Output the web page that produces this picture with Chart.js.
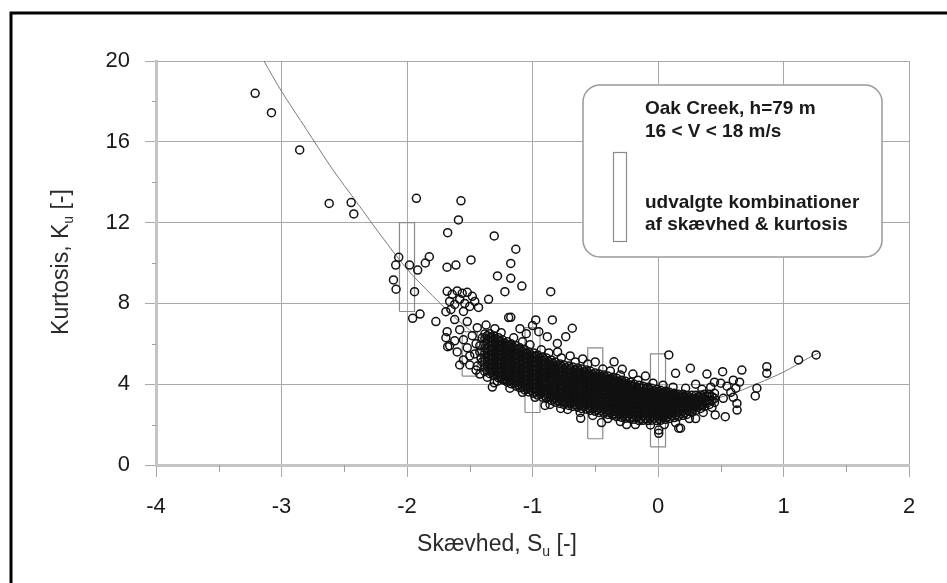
<!DOCTYPE html>
<html lang="da">
<head>
<meta charset="UTF-8">
<title>Kurtosis mod skævhed - Oak Creek</title>
<script src="https://cdn.jsdelivr.net/npm/chart.js"></script>
<style>
  body { margin: 0; background: #fff; }
  #wrap { width: 947px; height: 583px; }
</style>
</head>
<body>
<div id="wrap"><canvas id="chart" width="947" height="583"></canvas></div>
<script>
// fitted curve K(S)
const fitS = [-3.14, -3.0, -2.8, -2.6, -2.4, -2.2, -2.0, -1.8, -1.6, -1.4, -1.2, -1.0, -0.8, -0.6, -0.4, -0.2, 0, 0.2, 0.4, 0.6, 0.8, 1.0, 1.2, 1.28];
const fitK = [20.0, 18.5, 16.6, 14.7, 13.0, 11.3, 9.7, 8.4, 7.2, 6.2, 5.3, 4.6, 4.0, 3.5, 3.2, 2.95, 2.85, 2.95, 3.2, 3.55, 4.05, 4.6, 5.3, 5.55];

// selected skewness/kurtosis combinations (boxes)
const boxS = [-2.0, -1.5, -1.0, -0.5, 0.0];
const boxLow = [7.6, 4.4, 2.6, 1.3, 0.9];
const boxHigh = [12.0, 6.6, 6.8, 5.8, 5.5];

// dense band of measurements: one skewness column with its kurtosis values
const bandS = [-1.38, -1.34, -1.31, -1.27, -1.24, -1.2, -1.17, -1.13, -1.1, -1.06, -1.03, -0.99, -0.96, -0.92, -0.89, -0.85, -0.82, -0.78, -0.75, -0.71, -0.68, -0.64, -0.61, -0.57, -0.54, -0.5, -0.47, -0.43, -0.4, -0.36, -0.33, -0.29, -0.26, -0.22, -0.19, -0.15, -0.12, -0.08, -0.05, -0.01, 0.02, 0.06, 0.09, 0.13, 0.16, 0.2, 0.23, 0.27, 0.3, 0.34, 0.37, 0.41, 0.45];
const bandK = [
  [4.62, 4.85, 5.1, 5.3, 5.55, 5.78, 6.0, 6.25, 6.48],
  [4.52, 4.74, 4.98, 5.2, 5.41, 5.66, 5.88, 6.1, 6.31, 6.5],
  [4.43, 4.66, 4.9, 5.12, 5.33, 5.57, 5.8, 6.02, 6.22, 6.4],
  [4.31, 4.55, 4.77, 4.99, 5.22, 5.45, 5.66, 5.9, 6.1, 6.3],
  [4.22, 4.44, 4.68, 4.9, 5.13, 5.35, 5.56, 5.8, 6.0, 6.2],
  [4.1, 4.33, 4.57, 4.79, 5.0, 5.24, 5.46, 5.69, 5.9, 6.1],
  [4.02, 4.25, 4.47, 4.7, 4.93, 5.15, 5.37, 5.6, 5.82, 6.0],
  [3.9, 4.13, 4.36, 4.58, 4.8, 5.03, 5.25, 5.47, 5.7, 5.9],
  [3.82, 4.04, 4.27, 4.5, 4.72, 4.95, 5.17, 5.38, 5.6, 5.8],
  [3.71, 3.94, 4.16, 4.39, 4.61, 4.83, 5.06, 5.28, 5.5, 5.7],
  [3.62, 3.85, 4.07, 4.3, 4.52, 4.74, 4.97, 5.19, 5.4, 5.6],
  [3.55, 3.77, 4.0, 4.22, 4.44, 4.66, 4.88, 5.1, 5.33, 5.55],
  [3.46, 3.68, 3.9, 4.13, 4.35, 4.57, 4.8, 5.02, 5.24, 5.45],
  [3.36, 3.58, 3.8, 4.03, 4.25, 4.47, 4.7, 4.92, 5.14, 5.35],
  [3.3, 3.52, 3.74, 3.96, 4.18, 4.4, 4.62, 4.85, 5.07, 5.3],
  [3.2, 3.42, 3.64, 3.87, 4.09, 4.31, 4.53, 4.76, 4.98, 5.2],
  [3.11, 3.33, 3.56, 3.78, 4.0, 4.22, 4.44, 4.66, 4.88, 5.1],
  [3.05, 3.27, 3.5, 3.72, 3.94, 4.16, 4.38, 4.6, 4.8, 5.0],
  [3.0, 3.22, 3.44, 3.66, 3.88, 4.1, 4.32, 4.54, 4.75, 4.95],
  [2.95, 3.17, 3.39, 3.61, 3.83, 4.05, 4.27, 4.49, 4.7, 4.9],
  [2.9, 3.12, 3.34, 3.56, 3.78, 4.0, 4.22, 4.43, 4.64, 4.85],
  [2.86, 3.08, 3.3, 3.52, 3.74, 3.96, 4.17, 4.38, 4.6, 4.8],
  [2.8, 3.02, 3.24, 3.46, 3.68, 3.9, 4.12, 4.33, 4.55, 4.75],
  [2.76, 2.98, 3.2, 3.42, 3.64, 3.85, 4.06, 4.28, 4.5, 4.7],
  [2.7, 2.92, 3.14, 3.36, 3.58, 3.8, 4.01, 4.22, 4.44, 4.65],
  [2.66, 2.88, 3.1, 3.32, 3.53, 3.75, 3.96, 4.17, 4.37, 4.55],
  [2.6, 2.82, 3.04, 3.26, 3.48, 3.7, 3.91, 4.12, 4.32, 4.5],
  [2.56, 2.78, 3.0, 3.22, 3.44, 3.65, 3.86, 4.06, 4.26, 4.45],
  [2.5, 2.72, 2.94, 3.16, 3.38, 3.6, 3.81, 4.01, 4.21, 4.4],
  [2.46, 2.68, 2.9, 3.12, 3.34, 3.55, 3.76, 3.96, 4.16, 4.35],
  [2.4, 2.62, 2.84, 3.06, 3.28, 3.5, 3.71, 3.91, 4.11, 4.3],
  [2.36, 2.58, 2.8, 3.02, 3.23, 3.44, 3.65, 3.85, 4.04, 4.2],
  [2.31, 2.53, 2.75, 2.97, 3.18, 3.39, 3.6, 3.8, 3.98, 4.15],
  [2.3, 2.52, 2.74, 2.95, 3.16, 3.37, 3.57, 3.76, 3.94, 4.1],
  [2.26, 2.48, 2.7, 2.91, 3.12, 3.33, 3.53, 3.72, 3.88, 4.0],
  [2.2, 2.42, 2.64, 2.85, 3.06, 3.27, 3.47, 3.66, 3.82, 3.95],
  [2.21, 2.43, 2.65, 2.86, 3.07, 3.27, 3.46, 3.64, 3.8, 3.9],
  [2.2, 2.42, 2.63, 2.84, 3.05, 3.25, 3.44, 3.62, 3.78, 3.85],
  [2.22, 2.44, 2.65, 2.86, 3.06, 3.25, 3.43, 3.6, 3.8],
  [2.2, 2.41, 2.62, 2.83, 3.03, 3.22, 3.4, 3.58, 3.75],
  [2.21, 2.42, 2.63, 2.84, 3.04, 3.23, 3.41, 3.57, 3.7],
  [2.26, 2.47, 2.68, 2.88, 3.07, 3.25, 3.42, 3.56, 3.65],
  [2.3, 2.51, 2.72, 2.92, 3.11, 3.29, 3.45, 3.6],
  [2.35, 2.56, 2.77, 2.97, 3.15, 3.32, 3.46, 3.55],
  [2.4, 2.61, 2.82, 3.01, 3.19, 3.35, 3.5],
  [2.46, 2.67, 2.87, 3.06, 3.23, 3.38, 3.5],
  [2.5, 2.71, 2.91, 3.09, 3.26, 3.45],
  [2.6, 2.8, 2.99, 3.16, 3.31, 3.45],
  [2.7, 2.9, 3.08, 3.25, 3.45],
  [2.8, 3.0, 3.18, 3.35, 3.47],
  [2.9, 3.1, 3.28, 3.5],
  [3.0, 3.2, 3.38, 3.5],
  [3.1, 3.3, 3.55]
];

// more measurements in the core of the band, between the columns above
const coreS = [-1.36, -1.325, -1.29, -1.255, -1.22, -1.185, -1.15, -1.115, -1.08, -1.045, -1.01, -0.975, -0.94, -0.905, -0.87, -0.835, -0.8, -0.765, -0.73, -0.695, -0.66, -0.625, -0.59, -0.555, -0.52, -0.485, -0.45, -0.415, -0.38, -0.345, -0.31, -0.275, -0.24, -0.205, -0.17, -0.135, -0.1, -0.065, -0.03, 0.005, 0.04, 0.075, 0.11, 0.145, 0.18, 0.215, 0.25, 0.285, 0.32, 0.355, 0.39, 0.43];
const coreK = [
  [4.68, 4.9, 5.12, 5.34, 5.56, 5.78, 6.0, 6.22, 6.4],
  [4.58, 4.8, 5.02, 5.24, 5.46, 5.68, 5.9, 6.12, 6.34],
  [4.48, 4.7, 4.92, 5.14, 5.36, 5.58, 5.8, 6.02, 6.24],
  [4.37, 4.59, 4.81, 5.03, 5.25, 5.47, 5.69, 5.91, 6.13],
  [4.27, 4.49, 4.71, 4.93, 5.15, 5.37, 5.59, 5.81, 6.03],
  [4.17, 4.39, 4.61, 4.83, 5.05, 5.27, 5.49, 5.71, 5.93],
  [4.07, 4.29, 4.51, 4.73, 4.95, 5.17, 5.39, 5.61, 5.83],
  [3.97, 4.19, 4.41, 4.63, 4.85, 5.07, 5.29, 5.51, 5.73],
  [3.87, 4.09, 4.31, 4.53, 4.75, 4.97, 5.19, 5.41, 5.63],
  [3.77, 3.99, 4.21, 4.43, 4.65, 4.87, 5.09, 5.31, 5.53],
  [3.69, 3.91, 4.13, 4.35, 4.57, 4.79, 5.01, 5.23, 5.45],
  [3.61, 3.83, 4.05, 4.27, 4.49, 4.71, 4.93, 5.15, 5.37],
  [3.52, 3.74, 3.96, 4.18, 4.4, 4.62, 4.84, 5.06, 5.28],
  [3.44, 3.66, 3.88, 4.1, 4.32, 4.54, 4.76, 4.98, 5.2],
  [3.36, 3.58, 3.8, 4.02, 4.24, 4.46, 4.68, 4.9, 5.12],
  [3.26, 3.48, 3.7, 3.92, 4.14, 4.36, 4.58, 4.8, 5.02],
  [3.19, 3.41, 3.63, 3.85, 4.07, 4.29, 4.51, 4.73, 4.93],
  [3.13, 3.35, 3.57, 3.79, 4.01, 4.23, 4.45, 4.67, 4.86],
  [3.08, 3.3, 3.52, 3.74, 3.96, 4.18, 4.4, 4.62, 4.81],
  [3.03, 3.25, 3.47, 3.69, 3.91, 4.13, 4.35, 4.57, 4.76],
  [2.99, 3.21, 3.43, 3.65, 3.87, 4.09, 4.31, 4.53, 4.71],
  [2.94, 3.16, 3.38, 3.6, 3.82, 4.04, 4.26, 4.48, 4.66],
  [2.89, 3.11, 3.33, 3.55, 3.77, 3.99, 4.21, 4.43, 4.61],
  [2.84, 3.06, 3.28, 3.5, 3.72, 3.94, 4.16, 4.38, 4.56],
  [2.79, 3.01, 3.23, 3.45, 3.67, 3.89, 4.11, 4.33, 4.49],
  [2.74, 2.96, 3.18, 3.4, 3.62, 3.84, 4.06, 4.28, 4.41],
  [2.69, 2.91, 3.13, 3.35, 3.57, 3.79, 4.01, 4.23, 4.36],
  [2.64, 2.86, 3.08, 3.3, 3.52, 3.74, 3.96, 4.18, 4.31],
  [2.59, 2.81, 3.03, 3.25, 3.47, 3.69, 3.91, 4.13, 4.26],
  [2.54, 2.76, 2.98, 3.2, 3.42, 3.64, 3.86, 4.08, 4.21],
  [2.49, 2.71, 2.93, 3.15, 3.37, 3.59, 3.81, 4.03, 4.14],
  [2.44, 2.66, 2.88, 3.1, 3.32, 3.54, 3.76, 3.96, 4.06],
  [2.41, 2.63, 2.85, 3.07, 3.29, 3.51, 3.73, 3.92, 4.01],
  [2.39, 2.61, 2.83, 3.05, 3.27, 3.49, 3.71, 3.9],
  [2.34, 2.56, 2.78, 3.0, 3.22, 3.44, 3.64, 3.84],
  [2.31, 2.53, 2.75, 2.97, 3.19, 3.41, 3.6, 3.8],
  [2.31, 2.53, 2.75, 2.97, 3.19, 3.4, 3.58, 3.76],
  [2.32, 2.54, 2.76, 2.98, 3.2, 3.4, 3.56, 3.72],
  [2.32, 2.54, 2.76, 2.98, 3.18, 3.38, 3.54, 3.68],
  [2.31, 2.53, 2.75, 2.96, 3.16, 3.35, 3.52, 3.64],
  [2.34, 2.56, 2.78, 2.98, 3.17, 3.35, 3.5, 3.6],
  [2.39, 2.61, 2.82, 3.02, 3.2, 3.37, 3.52],
  [2.43, 2.65, 2.86, 3.05, 3.23, 3.4, 3.5],
  [2.48, 2.7, 2.9, 3.09, 3.26, 3.42],
  [2.54, 2.75, 2.95, 3.13, 3.3, 3.42],
  [2.59, 2.8, 2.99, 3.17, 3.34],
  [2.66, 2.86, 3.05, 3.22, 3.36],
  [2.76, 2.95, 3.13, 3.3],
  [2.86, 3.05, 3.22, 3.37],
  [2.96, 3.14, 3.32],
  [3.06, 3.24, 3.4],
  [3.18, 3.38]
];

// ragged rim of the band [S, K]
const rim = [
  [-1.3, 6.75], [-1.25, 6.55], [-1.15, 6.3], [-1.08, 6.1], [-1.02, 5.95], [-0.93, 5.7], [-0.87, 5.55],
  [-0.77, 5.3], [-0.66, 5.1], [-0.56, 5.0], [-0.44, 4.75], [-0.38, 4.65], [-0.3, 4.45], [-0.16, 4.2],
  [-0.04, 4.05], [0.04, 3.95], [0.12, 3.85], [0.22, 3.8], [0.35, 3.75], [0.42, 3.85],
  [-1.36, 4.35], [-1.28, 4.15], [-1.18, 3.8], [-1.08, 3.6], [-0.98, 3.35], [-0.86, 3.0], [-0.72, 2.75],
  [-0.62, 2.6], [-0.52, 2.45], [-0.4, 2.3], [-0.3, 2.15], [-0.18, 2.0], [-0.06, 1.98], [0.05, 2.0],
  [0.14, 2.1], [0.25, 2.3], [0.36, 2.6], [0.43, 2.85],
  [-1.42, 5.9], [-1.41, 5.3], [-1.44, 4.9], [-1.4, 6.3], [-1.46, 5.5]
];

// scattered measurements outside the dense band [S, K]
const sparse = [
  [-3.21, 18.4], [-3.08, 17.44], [-2.855, 15.6], [-2.62, 12.95], [-2.445, 12.99], [-2.424, 12.43],
  [-1.925, 13.2], [-1.57, 13.08], [-1.59, 12.13], [-1.676, 11.5], [-1.305, 11.34], [-1.133, 10.68],
  [-1.173, 9.98], [-1.279, 9.36], [-1.173, 9.24], [-1.085, 8.86], [-1.22, 8.58], [-0.855, 8.58],
  [-1.49, 10.15], [-1.61, 9.9], [-1.681, 9.79], [-1.822, 10.31], [-1.854, 10.0], [-1.915, 9.65],
  [-1.98, 9.9], [-2.066, 10.28], [-2.09, 9.9], [-2.108, 9.16], [-2.087, 8.7], [-1.94, 8.58],
  [-1.955, 7.26], [-1.896, 7.47], [-1.77, 7.1], [-1.69, 7.59],
  [-1.68, 8.6], [-1.64, 8.45], [-1.6, 8.62], [-1.56, 8.5], [-1.52, 8.55], [-1.48, 8.35],
  [-1.66, 8.1], [-1.62, 7.95], [-1.58, 8.2], [-1.54, 8.0], [-1.5, 7.85], [-1.46, 8.1],
  [-1.43, 7.8], [-1.65, 7.7], [-1.55, 7.6], [-1.35, 8.2],
  [-1.19, 7.3], [-1.37, 6.93], [-1.173, 7.31], [-0.974, 7.18], [-0.842, 7.18], [-0.683, 6.77],
  [-0.735, 6.35], [-0.802, 6.02], [-0.882, 6.35], [-1.0, 6.9], [-0.95, 6.6], [-1.05, 6.5], [-1.1, 6.75],
  [-1.69, 6.3], [-1.66, 5.9], [-1.62, 6.15], [-1.58, 6.7], [-1.55, 6.2], [-1.52, 5.8], [-1.48, 6.4],
  [-1.45, 6.0], [-1.6, 5.6], [-1.5, 5.4], [-1.68, 6.6], [-1.42, 5.6], [-1.44, 6.8], [-1.62, 7.2], [-1.52, 7.1],
  [-1.58, 4.95], [-1.5, 4.95], [-1.45, 4.7], [-1.676, 5.86], [-1.305, 4.07], [-1.226, 4.2],
  [-1.32, 3.86], [-1.21, 4.2], [-1.55, 5.2], [-1.4, 5.1], [-1.42, 4.5],
  [0.086, 5.45], [-0.35, 5.11], [0.14, 4.54], [0.258, 4.79], [0.006, 1.73], [0.18, 1.82],
  [-0.775, 2.8], [-0.616, 2.31], [-0.285, 4.74], [0.39, 4.5], [0.515, 4.62], [0.668, 4.7],
  [0.867, 4.87], [0.867, 4.54], [0.788, 3.8], [0.775, 3.42], [0.629, 3.05], [0.63, 2.72],
  [0.536, 2.39], [0.456, 2.48], [0.165, 1.82], [0.006, 1.57], [1.12, 5.2], [1.26, 5.45],
  [0.55, 3.9], [0.6, 4.2], [0.62, 3.8], [0.58, 3.6], [0.5, 4.05], [0.65, 4.1], [0.52, 3.3], [0.6, 3.35],
  [-0.5, 5.1], [-0.6, 5.25], [-0.2, 4.5], [-0.1, 4.4], [0.3, 4.0], [0.45, 4.1],
  [-0.9, 2.95], [-0.45, 2.1], [-0.25, 2.0], [0.3, 2.3], [-0.7, 5.4], [-0.8, 5.6]
];

const xMinor = [-3.5, -2.5, -1.5, -0.5, 0.5, 1.5];
const yMinor = [2, 6, 10, 14, 18];

const legendLines = ['Oak Creek, h=79 m', '16 < V < 18 m/s'];
const legendBoxText = ['udvalgte kombinationer', 'af skævhed & kurtosis'];

const FONT = 'Arial, "Liberation Sans", sans-serif';

// build datasets
const points = [];
bandS.forEach((s, i) => bandK[i].forEach(k => points.push({ x: s, y: k })));
coreS.forEach((s, i) => coreK[i].forEach(k => points.push({ x: s, y: k })));
rim.forEach(p => points.push({ x: p[0], y: p[1] }));
sparse.forEach(p => points.push({ x: p[0], y: p[1] }));

const curve = fitS.map((s, i) => ({ x: s, y: fitK[i] }));

const HALF = 0.06;
const boxSets = boxS.map((s, i) => ({
    data: [
        { x: s - HALF, y: boxLow[i] }, { x: s + HALF, y: boxLow[i] },
        { x: s + HALF, y: boxHigh[i] }, { x: s - HALF, y: boxHigh[i] },
        { x: s - HALF, y: boxLow[i] }
    ],
    showLine: true,
    borderColor: '#8a8a8a',
    borderWidth: 1.2,
    pointRadius: 0,
    fill: false,
    order: 3
}));

// minor ticks, titles with subscript, frame and legend box
const decorations = {
    id: 'decorations',
    beforeDatasetsDraw(chart) {
        const { ctx, scales: { x, y } } = chart;
        ctx.save();
        ctx.strokeStyle = '#a0a0a0';
        ctx.lineWidth = 1;
        ctx.beginPath();
        xMinor.forEach(v => {
            const px = Math.round(x.getPixelForValue(v)) + 0.5;
            ctx.moveTo(px, y.bottom);
            ctx.lineTo(px, y.bottom + 7);
        });
        yMinor.forEach(v => {
            const py = Math.round(y.getPixelForValue(v)) + 0.5;
            ctx.moveTo(x.left - 4, py);
            ctx.lineTo(x.left, py);
        });
        ctx.stroke();
        ctx.restore();
    },
    afterDraw(chart) {
        const { ctx, width, height } = chart;
        ctx.save();

        // outer frame (only left and top edge fall inside the picture)
        ctx.strokeStyle = '#000';
        ctx.lineWidth = 3;
        ctx.beginPath();
        ctx.moveTo(11, height + 5);
        ctx.lineTo(11, 13);
        ctx.lineTo(width + 5, 13);
        ctx.stroke();

        // axis titles with subscript u
        const drawSub = (parts, cx, cy) => {
            ctx.textBaseline = 'middle';
            ctx.textAlign = 'left';
            ctx.font = '23px ' + FONT;
            const w0 = ctx.measureText(parts[0]).width;
            const w2 = ctx.measureText(parts[2]).width;
            ctx.font = '14px ' + FONT;
            const w1 = ctx.measureText(parts[1]).width;
            let px = cx - (w0 + w1 + w2) / 2;
            ctx.font = '23px ' + FONT;
            ctx.fillText(parts[0], px, cy);
            px += w0;
            ctx.font = '14px ' + FONT;
            ctx.fillText(parts[1], px, cy + 7);
            px += w1;
            ctx.font = '23px ' + FONT;
            ctx.fillText(parts[2], px, cy);
        };
        ctx.fillStyle = '#2a2a2a';
        drawSub(['Skævhed, S', 'u', ' [-]'], 497, 545);
        ctx.save();
        ctx.translate(62, 262);
        ctx.rotate(-Math.PI / 2);
        drawSub(['Kurtosis, K', 'u', ' [-]'], 0, 0);
        ctx.restore();

        // legend box
        const bx = 583, by = 85, bw = 299, bh = 172, r = 17;
        ctx.beginPath();
        ctx.moveTo(bx + r, by);
        ctx.arcTo(bx + bw, by, bx + bw, by + bh, r);
        ctx.arcTo(bx + bw, by + bh, bx, by + bh, r);
        ctx.arcTo(bx, by + bh, bx, by, r);
        ctx.arcTo(bx, by, bx + bw, by, r);
        ctx.closePath();
        ctx.fillStyle = '#fff';
        ctx.fill();
        ctx.strokeStyle = '#9a9a9a';
        ctx.lineWidth = 1.5;
        ctx.stroke();

        ctx.strokeStyle = '#8a8a8a';
        ctx.lineWidth = 1.2;
        ctx.strokeRect(613.5, 152.5, 13, 89);

        ctx.fillStyle = '#1a1a1a';
        ctx.font = 'bold 19px ' + FONT;
        ctx.textAlign = 'left';
        ctx.textBaseline = 'middle';
        ctx.fillText(legendLines[0], 645, 109);
        ctx.fillText(legendLines[1], 645, 132);
        ctx.fillText(legendBoxText[0], 645, 203, 228);
        ctx.fillText(legendBoxText[1], 645, 225, 228);
        ctx.restore();
    }
};

new Chart(document.getElementById('chart'), {
    type: 'scatter',
    data: {
        datasets: [
            {
                data: points,
                pointStyle: 'circle',
                pointRadius: 4,
                borderColor: '#111',
                borderWidth: 1.5,
                backgroundColor: 'rgba(0,0,0,0)',
                order: 1
            },
            {
                data: curve,
                showLine: true,
                borderColor: '#7a7a7a',
                borderWidth: 1,
                pointRadius: 0,
                tension: 0.3,
                order: 2
            },
            ...boxSets
        ]
    },
    options: {
        responsive: false,
        animation: false,
        events: [],
        layout: { padding: { top: 61, right: 38, left: 0, bottom: 0 } },
        plugins: { legend: { display: false }, tooltip: { enabled: false } },
        scales: {
            x: {
                type: 'linear',
                min: -4,
                max: 2,
                ticks: { stepSize: 1, color: '#1a1a1a', font: { family: FONT, size: 22 }, padding: 17 },
                grid: { color: '#a8a8a8', lineWidth: 1, tickColor: '#a8a8a8', tickLength: 12 },
                border: { color: '#c4c4c4', width: 3 },
                afterFit(s) { s.height = 118; }
            },
            y: {
                type: 'linear',
                min: 0,
                max: 20,
                ticks: { stepSize: 4, color: '#1a1a1a', font: { family: FONT, size: 22 }, padding: 15 },
                grid: { color: '#a8a8a8', lineWidth: 1, tickColor: '#a8a8a8', tickLength: 11 },
                border: { color: '#c4c4c4', width: 3 },
                afterFit(s) { s.width = 156; }
            }
        }
    },
    plugins: [decorations]
});
</script>
</body>
</html>
